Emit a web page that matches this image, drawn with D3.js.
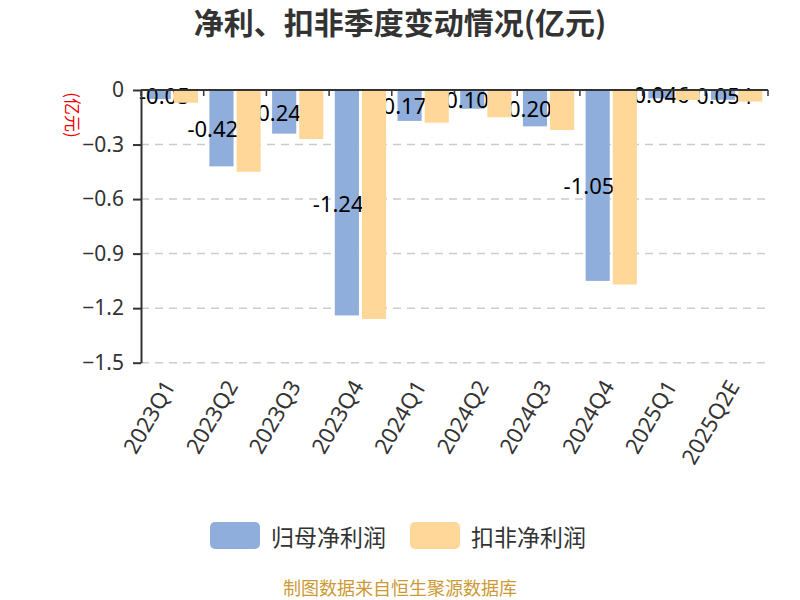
<!DOCTYPE html>
<html>
<head>
<meta charset="utf-8">
<script src="https://cdn.jsdelivr.net/npm/d3@7"></script>
<style>
  body { margin: 0; background: #fff; }
  svg { font-family: "Noto Sans", "Noto Sans CJK SC", sans-serif; }
</style>
</head>
<body>
<div id="chart"></div>
<script>
// quarters on the x axis
const quarters = ["2023Q1", "2023Q2", "2023Q3", "2023Q4", "2024Q1", "2024Q2", "2024Q3", "2024Q4", "2025Q1", "2025Q2E"]
// 归母净利润 (亿元)
const netProfit = [-0.05, -0.42, -0.24, -1.24, -0.17, -0.103, -0.20, -1.05, -0.046, -0.054]
// labels as printed on the blue bars
const netProfitLabels = ["-0.05", "-0.42", "-0.24", "-1.24", "-0.17", "-0.103", "-0.20", "-1.05", "-0.046", "-0.054"]
// 扣非净利润 (亿元)
const deductedProfit = [-0.07, -0.45, -0.27, -1.26, -0.18, -0.15, -0.22, -1.07, -0.055, -0.064]
const yTicks = [0, -0.3, -0.6, -0.9, -1.2, -1.5]
const seriesNames = ["归母净利润", "扣非净利润"]
const colors = ["#8FAEDB", "#FFD899"]

var width = 800, height = 600
var margin = {top: 90, right: 32, bottom: 237, left: 141}

var svg = d3.select("#chart").append("svg")
    .attr("width", width)
    .attr("height", height)

// title
svg.append("text")
    .attr("x", 400)
    .attr("y", 21)
    .attr("text-anchor", "middle")
    .attr("dominant-baseline", "central")
    .style("font-family", "'Noto Sans CJK SC', sans-serif")
    .style("font-size", "30px")
    .style("font-weight", "bold")
    .style("fill", "#333")
    .text("净利、扣非季度变动情况(亿元)")

var x = d3.scaleBand()
    .domain(quarters)
    .range([margin.left, width - margin.right])
    .padding(0)

var y = d3.scaleLinear()
    .domain([-1.5, 0])
    .range([height - margin.bottom - 0.3, margin.top])

var bw = x.bandwidth() * 0.385
var gap = 3
var offset = (x.bandwidth() - 2 * bw - gap) / 2

// dashed grid lines
svg.append("g")
    .selectAll("line")
    .data(yTicks.filter(d => d !== 0))
    .enter().append("line")
    .attr("x1", margin.left)
    .attr("x2", width - margin.right)
    .attr("y1", d => y(d))
    .attr("y2", d => y(d))
    .style("stroke", "#ccc")
    .style("stroke-width", 1.5)
    .style("stroke-dasharray", "8,6")

// blue bars
svg.append("g")
    .selectAll("rect")
    .data(netProfit)
    .enter().append("rect")
    .attr("x", (d, i) => x(quarters[i]) + offset)
    .attr("y", y(0))
    .attr("width", bw)
    .attr("height", d => y(d) - y(0))
    .style("fill", colors[0])

// value labels (drawn before the orange bars, so those cover them)
svg.append("g")
    .selectAll("text")
    .data(netProfit)
    .enter().append("text")
    .attr("x", (d, i) => Math.max(x(quarters[i]) + offset - 22, margin.left - 2))
    .attr("y", d => (y(0) + y(d)) / 2)
    .attr("dominant-baseline", "central")
    .style("font-size", "22px")
    .style("fill", "#000")
    .text((d, i) => netProfitLabels[i])

// orange bars
svg.append("g")
    .selectAll("rect")
    .data(deductedProfit)
    .enter().append("rect")
    .attr("x", (d, i) => x(quarters[i]) + offset + bw + gap)
    .attr("y", y(0))
    .attr("width", bw)
    .attr("height", d => y(d) - y(0))
    .style("fill", colors[1])

// x axis line at zero, ticks on band edges
var xAxis = svg.append("g")
xAxis.append("line")
    .attr("x1", margin.left)
    .attr("x2", width - margin.right)
    .attr("y1", y(0))
    .attr("y2", y(0))
    .style("stroke", "#333")
    .style("stroke-width", 2)
xAxis.selectAll(".xtick")
    .data(quarters.map(q => x(q)).concat([width - margin.right]))
    .enter().append("line")
    .attr("class", "xtick")
    .attr("x1", d => d)
    .attr("x2", d => d)
    .attr("y1", y(0))
    .attr("y2", y(0) + 6)
    .style("stroke", "#333")
    .style("stroke-width", 1.5)

// category labels at the bottom, rotated
svg.append("g")
    .selectAll("text")
    .data(quarters)
    .enter().append("text")
    .attr("transform", d => "translate(" + (x(d) + x.bandwidth() / 2 - 4) + "," + (y(-1.5) + 19) + ") rotate(-60)")
    .attr("text-anchor", "end")
    .attr("dominant-baseline", "central")
    .style("font-size", "22px")
    .style("fill", "#333")
    .text(d => d)

// y axis
var yAxis = svg.append("g")
    .attr("transform", "translate(" + margin.left + ",0)")
    .call(d3.axisLeft(y).tickValues(yTicks).tickSize(8).tickSizeOuter(0).tickPadding(9)
        .tickFormat(d => d === 0 ? "0" : d3.format(".1f")(d)))
yAxis.select(".domain").style("stroke", "#333").style("stroke-width", 2)
yAxis.selectAll(".tick line").style("stroke", "#333").style("stroke-width", 2)
yAxis.selectAll(".tick text")
    .style("font-size", "21px")
    .style("fill", "#333")
    .style("font-family", "'Noto Sans', sans-serif")

// y axis unit
svg.append("text")
    .attr("transform", "translate(73,115) rotate(90)")
    .attr("text-anchor", "middle")
    .attr("dominant-baseline", "central")
    .style("font-family", "'Noto Sans CJK SC', sans-serif")
    .style("font-size", "17px")
    .style("fill", "#e00")
    .text("(亿元)")

// legend
var legend = svg.append("g")
    .selectAll("g")
    .data(seriesNames)
    .enter().append("g")
    .attr("transform", (d, i) => "translate(" + (210 + i * 200) + ",522)")
legend.append("rect")
    .attr("width", 50)
    .attr("height", 27)
    .attr("rx", 5)
    .style("fill", (d, i) => colors[i])
legend.append("text")
    .attr("x", 61)
    .attr("y", 14)
    .attr("dominant-baseline", "central")
    .style("font-family", "'Noto Sans CJK SC', sans-serif")
    .style("font-size", "23px")
    .style("fill", "#333")
    .text(d => d)

// source note
svg.append("text")
    .attr("x", 400)
    .attr("y", 587)
    .attr("text-anchor", "middle")
    .attr("dominant-baseline", "central")
    .style("font-family", "'Noto Sans CJK SC', sans-serif")
    .style("font-size", "18px")
    .style("fill", "#cc9a35")
    .text("制图数据来自恒生聚源数据库")
</script>
</body>
</html>
